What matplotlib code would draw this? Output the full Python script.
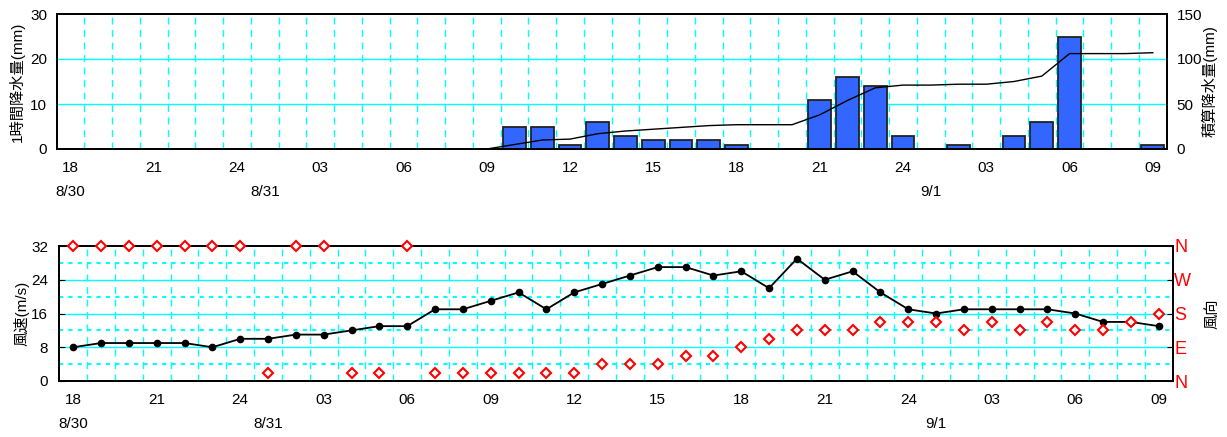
import numpy as np
import matplotlib
matplotlib.use('Agg')
from matplotlib import pyplot as plt
from matplotlib import transforms

plt.rcParams['font.family'] = ['Liberation Sans', 'Noto Sans CJK JP', 'DejaVu Sans']
plt.rcParams['font.size'] = 11

# datos horarios, desde 8/30 18h hasta 9/1 09h
hour_labels = ['18', '21', '24', '03', '06', '09', '12', '15', '18', '21', '24', '03', '06', '09']
date_labels = ['8/30', '8/31', '9/1']
date_pos = [0, 7, 31]

rain = [0, 0, 0, 0, 0, 0, 0, 0, 0, 0, 0, 0, 0, 0, 0, 0,
        5, 5, 1, 6, 3, 2, 2, 2, 1, 0, 0, 11, 16, 14, 3, 0,
        1, 0, 3, 6, 25, 0, 0, 1]
rain_acc = [0, 0, 0, 0, 0, 0, 0, 0, 0, 0, 0, 0, 0, 0, 0, 0,
            5, 10, 11, 17, 20, 22, 24, 26, 27, 27, 27, 38, 54, 68, 71, 71,
            72, 72, 75, 81, 106, 106, 106, 107]
wind_speed = [8, 9, 9, 9, 9, 8, 10, 10, 11, 11, 12, 13, 13,
              17, 17, 19, 21, 17, 21, 23, 25, 27, 27, 25, 26, 22, 29,
              24, 26, 21, 17, 16, 17, 17, 17, 17, 16, 14, 14, 13]
wind_dir = ['N', 'N', 'N', 'N', 'N', 'N', 'N', 'NNE', 'N', 'N', 'NNE', 'NNE', 'N',
            'NNE', 'NNE', 'NNE', 'NNE', 'NNE', 'NNE', 'NE', 'NE', 'NE', 'ENE', 'ENE',
            'E', 'ESE', 'SE', 'SE', 'SE', 'SSE', 'SSE', 'SSE', 'SE', 'SSE', 'SE',
            'SSE', 'SE', 'SE', 'SSE', 'S']

compass = {'NNE': 22.5, 'NE': 45, 'ENE': 67.5, 'E': 90, 'ESE': 112.5, 'SE': 135,
           'SSE': 157.5, 'S': 180, 'SSW': 202.5, 'SW': 225, 'WSW': 247.5, 'W': 270,
           'WNW': 292.5, 'NW': 315, 'NNW': 337.5, 'N': 360}

x = np.arange(len(rain))
cyan = '#00FFFF'
W, H = 1227, 437

fig = plt.figure(figsize=(W / 100, H / 100), dpi=100)


def px_axes(l, t, r, b):
    return fig.add_axes([l / W, 1 - b / H, (r - l) / W, (b - t) / H])


def common_x(ax):
    ax.set_xlim(-0.5, len(x) - 0.5)
    ax.set_xticks(np.arange(0, len(x), 3))
    ax.set_xticklabels(hour_labels)
    ax.tick_params(axis='x', length=0, pad=9)
    for xv in x[:-1] + 0.5:
        ax.axvline(xv, color=cyan, lw=1, ls=(0, (5, 4)), zorder=0)
    tr = transforms.blended_transform_factory(ax.transData, ax.transAxes)
    for p, d in zip(date_pos, date_labels):
        ax.annotate(d, xy=(p, 0), xycoords=tr, xytext=(0, -31), textcoords='offset points',
                    ha='center', va='center')
    for s in ax.spines.values():
        s.set_linewidth(1.3)


# --- grafico de lluvia ---
ax1 = px_axes(56.7, 14, 1166.7, 149)
ax1.set_ylim(0, 30)
ax1.set_yticks([0, 10, 20, 30])
ax1.tick_params(axis='y', length=0, pad=7)
for yv in [10, 20]:
    ax1.axhline(yv, color=cyan, lw=1, zorder=0)
common_x(ax1)
ax1.bar(x, rain, width=0.82, color='#3366FF', edgecolor='#222222', linewidth=1.3, zorder=2)
ax1.set_ylabel('1時間降水量(mm)')
ax1.yaxis.set_label_coords(-0.0286, 0.5)

ax1b = ax1.twinx()
ax1b.set_ylim(0, 150)
ax1b.set_yticks([0, 50, 100, 150])
ax1b.tick_params(axis='y', length=0, pad=7)
ax1b.plot(x, rain_acc, color='black', lw=1, zorder=3)
ax1b.set_ylabel('積算降水量(mm)', rotation=90)
ax1b.yaxis.set_label_coords(1.0315, 0.5)
for s in ax1b.spines.values():
    s.set_linewidth(1.3)

# --- grafico de viento ---
ax2 = px_axes(59.3, 246, 1172.7, 381)
ax2.set_ylim(0, 32)
ax2.set_yticks([0, 8, 16, 24, 32])
ax2.tick_params(axis='y', direction='in', length=4, pad=8)
for yv in [8, 16, 24]:
    ax2.axhline(yv, color=cyan, lw=1, zorder=0)
for yv in [4, 12, 20, 28]:
    ax2.axhline(yv, color=cyan, lw=1.5, ls=(0, (2, 2.5)), zorder=0)
common_x(ax2)
ax2.plot(x, wind_speed, color='black', lw=1.3, marker='o', ms=4.5, zorder=4)
ax2.set_ylabel('風速(m/s)')
ax2.yaxis.set_label_coords(-0.027, 0.5)

ax2b = ax2.twinx()
ax2b.set_ylim(0, 360)
ax2b.set_yticks([0, 90, 180, 270, 360])
ax2b.set_yticklabels(['N', 'E', 'S', 'W', 'N'], color='red', fontsize=13)
ax2b.tick_params(axis='y', direction='in', length=4, pad=1)
ax2b.plot(x, [compass[d] for d in wind_dir], ls='none', marker='D', ms=5,
          mfc='white', mec='red', mew=1.5, zorder=5, clip_on=False)
ax2b.set_ylabel('風向', rotation=90)
ax2b.yaxis.set_label_coords(1.029, 0.5)
for s in ax2b.spines.values():
    s.set_linewidth(1.3)

fig.savefig('out.png', dpi=100)
